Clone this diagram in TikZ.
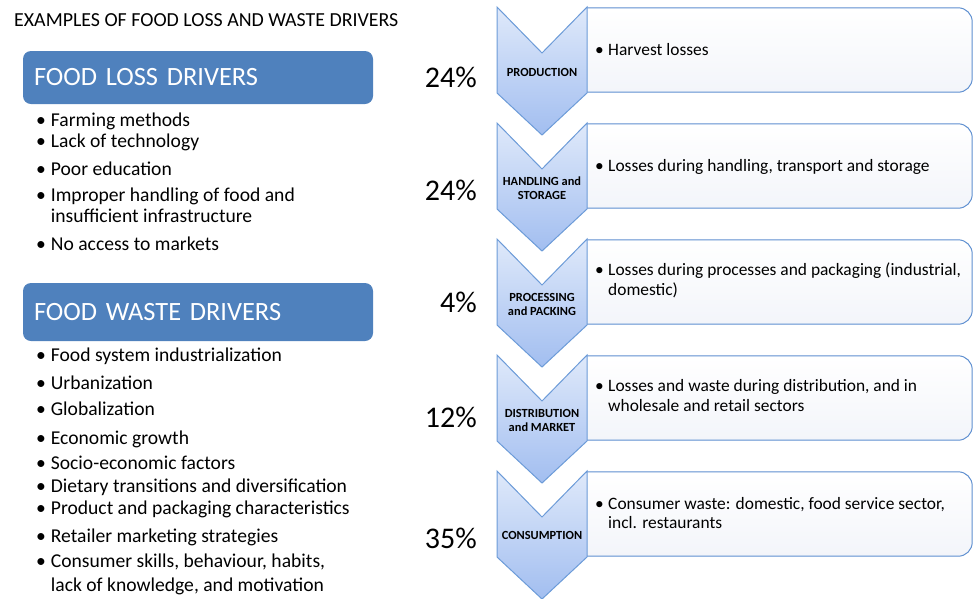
\documentclass[tikz,border=0pt]{standalone}
\usepackage{fontspec}
\setmainfont{Carlito}
\usepackage{tikz}
\usetikzlibrary{positioning}
\definecolor{headblue}{RGB}{79,129,189}
\definecolor{chevtop}{RGB}{223,233,250}
\definecolor{chevbot}{RGB}{162,190,240}
\definecolor{chevline}{RGB}{108,155,216}
\definecolor{boxline}{RGB}{94,143,208}
\definecolor{boxbot}{RGB}{243,245,250}
\newcommand{\bul}{\makebox[0.75em][l]{\textbullet}}

\begin{document}
\begin{tikzpicture}[x=1pt, y=-1pt,
    head/.style={rectangle, rounded corners=8pt, fill=headblue, text=white, minimum width=350pt, text width=328pt, align=left, font=\fontsize{26.4}{32}\selectfont},
    chev/.style={draw=chevline, line width=1pt, line join=miter, top color=chevtop, bottom color=chevbot},
    rbox/.style={rectangle, minimum width=385pt, minimum height=84pt, inner sep=0pt},
    rline/.style={draw=boxline, line width=1pt, top color=white, bottom color=boxbot},
    stage/.style={align=center, inner sep=0pt, font=\bfseries\fontsize{12.4}{14}\selectfont},
    pct/.style={anchor=base east, inner sep=0pt, font=\fontsize{30}{36}\selectfont},
    item/.style={anchor=base west, inner sep=0pt, font=\fontsize{19.6}{23}\selectfont},
    rtxt/.style={anchor=base west, inner sep=0pt, font=\fontsize{17.4}{20}\selectfont}
]
    \useasboundingbox (0,0) rectangle (974,598);

    % left column
    \node[item, font=\fontsize{19.9}{23}\selectfont] (title) at (14,26) {EXAMPLES OF FOOD LOSS AND WASTE DRIVERS};
    \node[head, minimum height=53pt] (loss) at (198,77.5) {FOOD LOSS DRIVERS};
    \node[head, minimum height=58pt] (waste) at (198,312) {FOOD WASTE DRIVERS};

    \foreach \yy/\txt [count=\k] in {126.7/Farming methods, 147.7/Lack of technology, 175/Poor education, 201.7/Improper handling of food and, 250/No access to markets}
        \node[item] (l\k) at (36,\yy) {\bul\txt};
    \node[item] (l4b) at (50.7,222.7) {insufficient infrastructure};

    \foreach \yy/\txt [count=\k] in {361.7/Food system industrialization, 389/Urbanization, 415.7/Globalization, 444.3/Economic growth, 469/Socio-economic factors, 492.7/Dietary transitions and diversification, 514.3/Product and packaging characteristics, 542.7/Retailer marketing strategies, 567.7/{Consumer skills, behaviour, habits,}}
        \node[item] (w\k) at (36,\yy) {\bul\txt};
    \node[item] (w9b) at (50.7,591.7) {lack of knowledge, and motivation};

    % percentages
    \node[pct] (pc1) at (477,87) {24\%};
    \node[pct] (pc2) at (477,200) {24\%};
    \node[pct] (pc3) at (477,312) {4\%};
    \node[pct] (pc4) at (477,427) {12\%};
    \node[pct] (pc5) at (477,548) {35\%};

    % boxes behind the chevrons
    \foreach \y [count=\i] in {7,123,239,355,471} {
        \node[rbox] (b\i) at (779.5,\y+43) {};
        \path[rline] (b\i.north west) [rounded corners=14pt] -- (b\i.north east) -- (b\i.south east) -- (b\i.south west);
        \draw[chev] (497,\y) -- (542,\y+46) -- (587,\y) -- (587,\y+86) -- (542,\y+128) -- (497,\y+86) -- cycle;
    }

    % stage labels
    \node[stage] (s1) at (542,72) {PRODUCTION};
    \node[stage] (s2) at (542,188) {HANDLING and\\STORAGE};
    \node[stage] (s3) at (542,304) {PROCESSING\\and PACKING};
    \node[stage] (s4) at (542,420) {DISTRIBUTION\\and MARKET};
    \node[stage] (s5) at (542,535) {CONSUMPTION};

    % box texts
    \node[rtxt] (t1) at (595,55) {\bul Harvest losses};
    \node[rtxt] (t2) at (595,171.7) {\bul Losses during handling, transport and storage};
    \node[rtxt] (t3) at (595,275.7) {\bul Losses during processes and packaging (industrial,};
    \node[rtxt] (t3b) at (608,295) {domestic)};
    \node[rtxt] (t4) at (595,391.7) {\bul Losses and waste during distribution, and in};
    \node[rtxt] (t4b) at (608,411) {wholesale and retail sectors};
    \node[rtxt] (t5) at (595,509) {\bul Consumer waste: domestic, food service sector,};
    \node[rtxt] (t5b) at (608,528) {incl. restaurants};
\end{tikzpicture}
\end{document}
